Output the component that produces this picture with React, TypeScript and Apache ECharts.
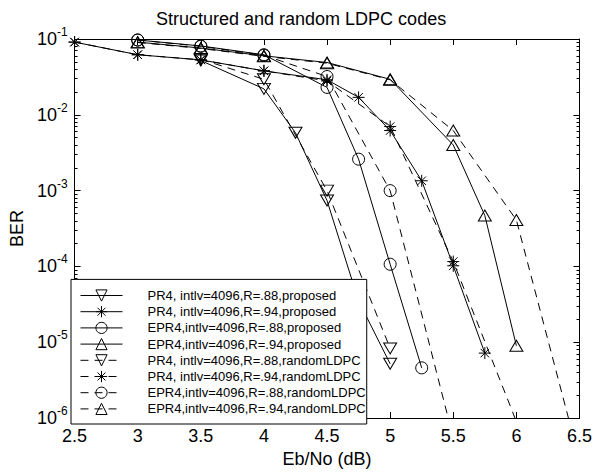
import React, { useEffect, useRef } from "react";
import * as echarts from "echarts";

// ---- data (Eb/No in dB, BER) ----
const names = [
  "PR4, intlv=4096,R=.88,proposed",
  "PR4, intlv=4096,R=.94,proposed",
  "EPR4,intlv=4096,R=.88,proposed",
  "EPR4,intlv=4096,R=.94,proposed",
  "PR4, intlv=4096,R=.88,randomLDPC",
  "PR4, intlv=4096,R=.94,randomLDPC",
  "EPR4,intlv=4096,R=.88,randomLDPC",
  "EPR4,intlv=4096,R=.94,randomLDPC",
];

const pr4_88_prop_x = [3.5, 4, 4.25, 4.5, 4.75, 5];
const pr4_88_prop_ber = [0.052, 0.022, 0.0058, 0.00074, 3.5e-5, 5.2e-6];

const pr4_94_prop_x = [2.5, 3, 3.5, 4, 4.5, 4.75, 5, 5.25, 5.5, 5.75];
const pr4_94_prop_ber = [0.091, 0.062, 0.053, 0.038, 0.029, 0.017, 0.0062, 0.00135, 0.000102, 7.2e-6];

const epr4_88_prop_x = [3, 3.5, 4, 4.5, 4.75, 5, 5.25];
const epr4_88_prop_ber = [0.097, 0.081, 0.062, 0.023, 0.0026, 0.000107, 4.6e-6];

const epr4_94_prop_x = [3, 3.5, 4, 4.5, 5, 5.5, 5.75, 6];
const epr4_94_prop_ber = [0.091, 0.076, 0.06, 0.049, 0.0294, 0.004, 0.00047, 9e-6];

const pr4_88_rand_x = [3.5, 4, 4.5, 5];
const pr4_88_rand_ber = [0.054, 0.0294, 0.001, 8.3e-6];

const pr4_94_rand_x = [2.5, 3, 3.5, 4, 4.5, 5, 5.5, 6];
const pr4_94_rand_ber = [0.091, 0.062, 0.053, 0.038, 0.028, 0.007, 0.000116, 9e-7];

const epr4_88_rand_x = [3, 3.5, 4, 4.5, 5, 5.5];
const epr4_88_rand_ber = [0.097, 0.08, 0.061, 0.032, 0.001, 5.5e-7];

const epr4_94_rand_x = [3, 3.5, 4, 4.5, 5, 5.5, 6, 6.5];
const epr4_94_rand_ber = [0.09, 0.075, 0.059, 0.048, 0.029, 0.0062, 0.00041, 2.8e-7];

const xTickMin = 2.5;
const xTickMax = 6.5;
const xTickStep = 0.5;
const berMin = 1e-6;
const berMax = 1e-1;
const expMin = -6;
const expMax = -1;

// minor log ticks (2..9 x 10^n), expressed as exponents
const minorTickExp: number[] = [];
for (let e = expMin; e < expMax; e++) {
  for (let k = 2; k <= 9; k++) minorTickExp.push(e + Math.log10(k));
}

const FONT = "'Liberation Sans', Arial, Helvetica, sans-serif";
const STAR =
  "path://M0,-10L0,10M-10,0L10,0M-7.07,-7.07L7.07,7.07M-7.07,7.07L7.07,-7.07";

function pairs(xs: number[], ys: number[]) {
  return xs.map((x, i) => [x, ys[i]]);
}

function mk(name: string, xs: number[], ys: number[], marker: string, dashed: boolean) {
  const symbol = marker === "star" ? STAR : marker === "circle" ? "circle" : "triangle";
  const size = marker === "circle" ? 12 : marker === "star" ? 12 : [13, 11];
  return {
    type: "line",
    name,
    data: pairs(xs, ys),
    symbol,
    symbolSize: size,
    symbolRotate: marker === "down" ? 180 : 0,
    showAllSymbol: true,
    clip: true,
    lineStyle: { color: "#000", width: 1, type: dashed ? [8, 6] : "solid" },
    itemStyle: { color: "none", borderColor: "#000", borderWidth: 1 },
    emphasis: { disabled: true },
  };
}

export default function App() {
  const ref = useRef<HTMLDivElement>(null);
  useEffect(() => {
    const chart = echarts.init(ref.current!, null, { renderer: "svg" });
    const axisLine = { show: true, onZero: false, lineStyle: { color: "#000", width: 1 } };
    const labelStyle = { fontFamily: FONT, fontSize: 18, color: "#000" };
    const minorAxis = (position: string) => ({
      type: "value",
      min: expMin,
      max: expMax,
      interval: 1,
      position,
      axisLine: { show: false },
      axisTick: { inside: true, length: 3, customValues: minorTickExp, lineStyle: { color: "#000" } },
      axisLabel: { show: false },
      splitLine: { show: false },
    });
    const option: any = {
      animation: false,
      backgroundColor: "#fff",
      title: {
        text: "Structured and random LDPC codes",
        left: 156,
        top: 10,
        padding: 0,
        textStyle: { fontFamily: FONT, fontSize: 18, fontWeight: "normal", color: "#000" },
      },
      grid: { left: 71, right: 14, top: 39, bottom: 49, containLabel: false },
      legend: {
        orient: "vertical",
        left: 71,
        bottom: 49,
        itemWidth: 42,
        itemHeight: 14,
        itemGap: 0,
        padding: [8, 1, 7, 9],
        backgroundColor: "#fff",
        borderColor: "#000",
        borderWidth: 1,
        borderRadius: 0,
        selectedMode: false,
        lineStyle: { width: 1 },
        itemStyle: { borderWidth: 1 },
        textStyle: { fontFamily: FONT, fontSize: 13, color: "#000", padding: [0, 0, 0, 20] },
        data: names,
      },
      xAxis: [
        {
          type: "value",
          min: xTickMin,
          max: xTickMax,
          interval: xTickStep,
          position: "bottom",
          axisLine,
          axisTick: { inside: true, length: 6, lineStyle: { color: "#000" } },
          axisLabel: { ...labelStyle, margin: 9 },
          splitLine: { show: false },
          name: "Eb/No (dB)",
          nameLocation: "middle",
          nameGap: 28,
          nameTextStyle: labelStyle,
        },
        {
          type: "value",
          min: xTickMin,
          max: xTickMax,
          interval: xTickStep,
          position: "top",
          axisLine,
          axisTick: { inside: true, length: 6, lineStyle: { color: "#000" } },
          axisLabel: { show: false },
          splitLine: { show: false },
        },
      ],
      yAxis: [
        {
          type: "log",
          logBase: 10,
          min: berMin,
          max: berMax,
          position: "left",
          axisLine,
          axisTick: { inside: true, length: 6, lineStyle: { color: "#000" } },
          axisLabel: {
            margin: 7,
            formatter: (v: number) => "{b|10}{s|" + Math.round(Math.log10(v)) + "}",
            rich: {
              b: { fontFamily: FONT, fontSize: 18, color: "#000", lineHeight: 18 },
              s: { fontFamily: FONT, fontSize: 12, color: "#000", padding: [0, 0, 14, 0] },
            },
          },
          splitLine: { show: false },
          name: "BER",
          nameLocation: "middle",
          nameGap: 43,
          nameTextStyle: labelStyle,
        },
        minorAxis("left"),
        {
          type: "log",
          logBase: 10,
          min: berMin,
          max: berMax,
          position: "right",
          axisLine,
          axisTick: { inside: true, length: 6, lineStyle: { color: "#000" } },
          axisLabel: { show: false },
          splitLine: { show: false },
        },
        minorAxis("right"),
      ],
      series: [
        mk(names[0], pr4_88_prop_x, pr4_88_prop_ber, "down", false),
        mk(names[1], pr4_94_prop_x, pr4_94_prop_ber, "star", false),
        mk(names[2], epr4_88_prop_x, epr4_88_prop_ber, "circle", false),
        mk(names[3], epr4_94_prop_x, epr4_94_prop_ber, "up", false),
        mk(names[4], pr4_88_rand_x, pr4_88_rand_ber, "down", true),
        mk(names[5], pr4_94_rand_x, pr4_94_rand_ber, "star", true),
        mk(names[6], epr4_88_rand_x, epr4_88_rand_ber, "circle", true),
        mk(names[7], epr4_94_rand_x, epr4_94_rand_ber, "up", true),
      ],
    };
    chart.setOption(option);
    return () => chart.dispose();
  }, []);
  return (
    <div
      ref={ref}
      style={{ position: "absolute", left: 0, top: 0, width: 595, height: 473, background: "#fff" }}
    />
  );
}
